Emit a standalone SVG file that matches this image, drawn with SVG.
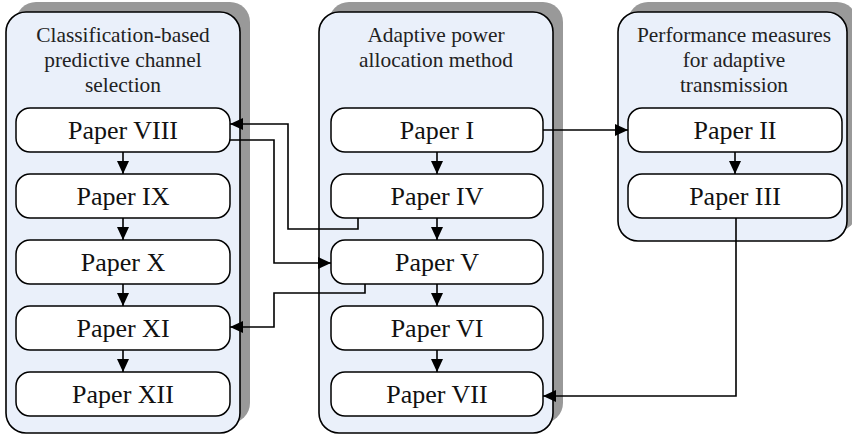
<svg xmlns="http://www.w3.org/2000/svg" width="852" height="438" viewBox="0 0 852 438">
<style>
.shadow{fill:#999999;stroke:none}
.panel{fill:#EAF0FA;stroke:#000;stroke-width:1.6}
.node{fill:#fff;stroke:#000;stroke-width:1.5}
.title{font-family:"Liberation Serif","Times New Roman",serif;font-size:21.4px;fill:#222;text-anchor:middle}
.lbl{font-family:"Liberation Serif","Times New Roman",serif;font-size:26px;fill:#111;text-anchor:middle}
.conn{fill:none;stroke:#000;stroke-width:1.6}
</style>
<defs>
<marker id="ah" viewBox="0 0 13 12" refX="13" refY="6" markerWidth="13" markerHeight="12" markerUnits="userSpaceOnUse" orient="auto">
<path d="M0,0 L13,6 L0,12 Z" fill="#000"/>
</marker>
</defs>
<g id="panel-left">
<rect class="shadow" x="16" y="2" width="234" height="421" rx="20"/>
<rect class="panel" x="6" y="12" width="234" height="421" rx="20"/>
<text class="title" x="123" y="42">Classification-based</text>
<text class="title" x="123" y="67">predictive channel</text>
<text class="title" x="123" y="92">selection</text>
</g>
<g id="panel-middle">
<rect class="shadow" x="329" y="2" width="234" height="421" rx="20"/>
<rect class="panel" x="319" y="12" width="234" height="421" rx="20"/>
<text class="title" x="436" y="42">Adaptive power</text>
<text class="title" x="436" y="67">allocation method</text>
</g>
<g id="panel-right">
<rect class="shadow" x="628" y="2" width="229" height="229" rx="20"/>
<rect class="panel" x="618" y="12" width="229" height="229" rx="20"/>
<text class="title" x="734" y="42">Performance measures</text>
<text class="title" x="734" y="67">for adaptive</text>
<text class="title" x="734" y="92">transmission</text>
</g>
<g id="paper-viii"><rect class="node" x="16" y="108" width="214" height="44" rx="14"/><text class="lbl" x="123" y="139">Paper VIII</text></g>
<g id="paper-ix"><rect class="node" x="16" y="174" width="214" height="44" rx="14"/><text class="lbl" x="123" y="205">Paper IX</text></g>
<g id="paper-x"><rect class="node" x="16" y="240" width="214" height="44" rx="14"/><text class="lbl" x="123" y="271">Paper X</text></g>
<g id="paper-xi"><rect class="node" x="16" y="306" width="214" height="44" rx="14"/><text class="lbl" x="123" y="337">Paper XI</text></g>
<g id="paper-xii"><rect class="node" x="16" y="372" width="214" height="44" rx="14"/><text class="lbl" x="123" y="403">Paper XII</text></g>
<g id="paper-i"><rect class="node" x="331" y="108" width="212" height="44" rx="14"/><text class="lbl" x="437" y="139">Paper I</text></g>
<g id="paper-iv"><rect class="node" x="331" y="174" width="212" height="44" rx="14"/><text class="lbl" x="437" y="205">Paper IV</text></g>
<g id="paper-v"><rect class="node" x="331" y="240" width="212" height="44" rx="14"/><text class="lbl" x="437" y="271">Paper V</text></g>
<g id="paper-vi"><rect class="node" x="331" y="306" width="212" height="44" rx="14"/><text class="lbl" x="437" y="337">Paper VI</text></g>
<g id="paper-vii"><rect class="node" x="331" y="372" width="212" height="44" rx="14"/><text class="lbl" x="437" y="403">Paper VII</text></g>
<g id="paper-ii"><rect class="node" x="628" y="108" width="214" height="44" rx="14"/><text class="lbl" x="735" y="139">Paper II</text></g>
<g id="paper-iii"><rect class="node" x="628" y="174" width="214" height="44" rx="14"/><text class="lbl" x="735" y="205">Paper III</text></g>
<g id="connectors">
<path class="conn" d="M123,152 V174" marker-end="url(#ah)"/>
<path class="conn" d="M123,218 V240" marker-end="url(#ah)"/>
<path class="conn" d="M123,284 V306" marker-end="url(#ah)"/>
<path class="conn" d="M123,350 V372" marker-end="url(#ah)"/>
<path class="conn" d="M437,152 V174" marker-end="url(#ah)"/>
<path class="conn" d="M437,218 V240" marker-end="url(#ah)"/>
<path class="conn" d="M437,284 V306" marker-end="url(#ah)"/>
<path class="conn" d="M437,350 V372" marker-end="url(#ah)"/>
<path class="conn" d="M735,152 V174" marker-end="url(#ah)"/>
<path class="conn" d="M543,130 H628" marker-end="url(#ah)"/>
<path class="conn" d="M736,218 V396 H543" marker-end="url(#ah)"/>
<path class="conn" d="M358,218 V229 H288 V124 H230" marker-end="url(#ah)"/>
<path class="conn" d="M230,140 H274 V263 H331" marker-end="url(#ah)"/>
<path class="conn" d="M365,284 V293 H274 V327 H230" marker-end="url(#ah)"/>
</g>
</svg>
